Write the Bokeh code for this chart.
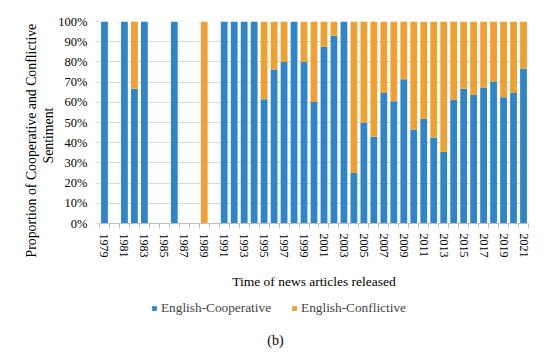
from bokeh.plotting import figure
from bokeh.models import (Range1d, FixedTicker, PrintfTickFormatter, Legend, LegendItem,
                          ColumnDataSource, Title, Label)
from bokeh.layouts import column
from bokeh.embed import file_html
from bokeh.resources import INLINE

years = list(range(1979, 2022))
cooperative = [100, 0, 100, 66.7, 100, 0, 0, 100, 0, 0, 0, 0, 100, 100, 100, 100,
               61.5, 76.2, 80, 100, 80, 60.2, 87.5, 93, 100, 25, 50, 42.9, 64.6,
               60.5, 71.4, 46.5, 51.9, 42.6, 35.5, 61.3, 66.7, 63.6, 67.3, 70.3,
               62.5, 64.6, 76.7]
conflictive = [0, 0, 0, 33.3, 0, 0, 0, 0, 0, 0, 100, 0, 0, 0, 0, 0,
               38.5, 23.8, 20, 0, 20, 39.8, 12.5, 7, 0, 75, 50, 57.1, 35.4,
               39.5, 28.6, 53.5, 48.1, 57.4, 64.5, 38.7, 33.3, 36.4, 32.7, 29.7,
               37.5, 35.4, 23.3]
series_names = ["English-Cooperative", "English-Conflictive"]
tick_years = [y for y in years if y % 2 == 1]
y_ticks = list(range(0, 101, 10))

BLUE = "#2E86C8"
ORANGE = "#F0A030"
FONT = "Liberation Serif"

src = ColumnDataSource(dict(year=years, coop=cooperative, conf=conflictive))

p = figure(width=550, height=296, output_backend="svg", toolbar_location=None,
           x_range=Range1d(years[0] - 0.5, years[-1] + 0.5), y_range=Range1d(0, 100),
           min_border_left=99, min_border_right=22, min_border_top=21, min_border_bottom=73)
p.outline_line_color = None

rs = p.vbar_stack(["coop", "conf"], x="year", width=0.68, color=[BLUE, ORANGE],
                  line_color=None, source=src)

# x axis
p.xaxis.ticker = FixedTicker(ticks=tick_years,
                             minor_ticks=[y - 0.5 for y in years] + [years[-1] + 0.5])
p.xaxis.major_label_orientation = "vertical"
p.xaxis.major_tick_line_color = None
p.xaxis.major_tick_out = 0
p.xaxis.major_tick_in = 0
p.xaxis.minor_tick_line_color = "#BFBFBF"
p.xaxis.minor_tick_out = 5
p.xaxis.minor_tick_in = 0
p.xaxis.axis_line_color = "#BFBFBF"
p.xaxis.major_label_text_font = FONT
p.xaxis.major_label_text_font_size = "12px"
p.xaxis.major_label_text_color = "#000000"
p.xaxis.major_label_standoff = 5
p.xaxis.axis_label = "Time of news articles released"
p.xaxis.axis_label_text_font = FONT
p.xaxis.axis_label_text_font_size = "13.5px"
p.xaxis.axis_label_text_font_style = "normal"
p.xaxis.axis_label_text_color = "#000000"
p.xaxis.axis_label_standoff = 13

# y axis
p.yaxis.ticker = FixedTicker(ticks=y_ticks)
p.yaxis.formatter = PrintfTickFormatter(format="%d%%")
p.yaxis.axis_line_color = None
p.yaxis.major_tick_line_color = "#D9D9D9"
p.yaxis.major_tick_out = 4
p.yaxis.major_tick_in = 0
p.yaxis.minor_tick_line_color = None
p.yaxis.major_label_text_font = FONT
p.yaxis.major_label_text_font_size = "12.5px"
p.yaxis.major_label_text_color = "#000000"
p.yaxis.major_label_standoff = 8

ylab2 = Title(text="Sentiment", align="left", offset=60,
              text_font=FONT, text_font_size="13.8px", text_font_style="normal",
              text_color="#000000", standoff=0)
p.add_layout(ylab2, "left")
ylab1 = Title(text="Proportion of Cooperative and Conflictive", align="left", offset=-34,
              text_font=FONT, text_font_size="13.8px", text_font_style="normal",
              text_color="#000000", standoff=0)
p.add_layout(ylab1, "left")

p.xgrid.grid_line_color = None
p.ygrid.grid_line_color = "#D9D9D9"
p.ygrid.ticker = FixedTicker(ticks=y_ticks)

# legend + caption strip (frame aligned with the chart's frame by the column)
q = figure(width=550, height=57, output_backend="svg", toolbar_location=None,
           x_range=Range1d(0, 1), y_range=Range1d(0, 1),
           x_axis_location=None, y_axis_location=None,
           min_border_left=0, min_border_right=0, min_border_top=0, min_border_bottom=0)
q.outline_line_color = None
q.grid.visible = False
dummy = ColumnDataSource(dict(x=[5], top=[0]))
d1 = q.vbar(x="x", top="top", width=0.1, color=BLUE, line_color=None, source=dummy)
d2 = q.vbar(x="x", top="top", width=0.1, color=ORANGE, line_color=None, source=dummy)

legend = Legend(items=[LegendItem(label=series_names[0], renderers=[d1]),
                       LegendItem(label=series_names[1], renderers=[d2])],
                orientation="horizontal", location=(52, 37),
                glyph_width=6, glyph_height=6, label_text_font=FONT,
                label_text_font_size="13.3px", label_standoff=4, spacing=20,
                border_line_color=None, background_fill_alpha=0, margin=0, padding=0)
q.add_layout(legend, "center")

cap = Label(x=176, y=13, x_units="screen", y_units="screen", text="(b)",
            text_font=FONT, text_font_size="14px", text_color="#000000",
            text_align="center", text_baseline="middle")
q.add_layout(cap)

layout = column(p, q, spacing=0)
open("out.html", "w").write(file_html(layout, INLINE))
